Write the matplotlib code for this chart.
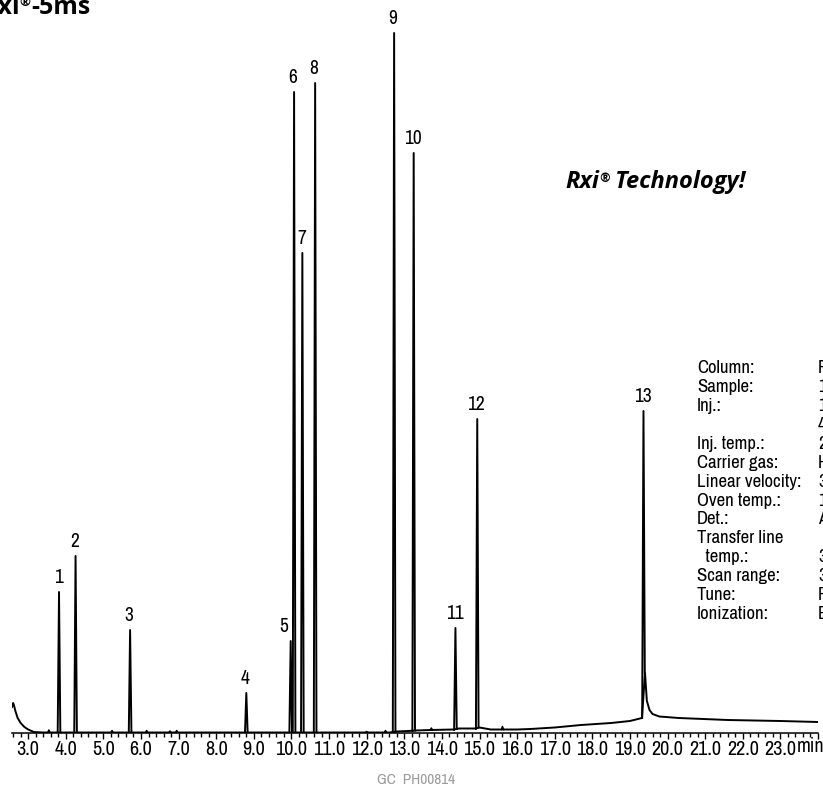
import numpy as np
import matplotlib.pyplot as plt
from matplotlib import font_manager
from matplotlib.font_manager import FontProperties

# peaks: retention time (min) and apex height (above the axis)
peak_no = ["1", "2", "3", "4", "5", "6", "7", "8", "9", "10", "11", "12", "13"]
peak_rt = [3.82, 4.26, 5.71, 8.80, 9.98, 10.07, 10.29, 10.63, 12.73, 13.25, 14.36, 14.94, 19.36]
peak_top = [141, 177, 103, 40, 92, 641, 480, 650, 700, 580, 105, 314, 322]
peak_foot_left = [0.5, 0.5, 0.5, 0.5, 0.5, 0.5, 0.5, 0.5, 0.8, 2.0, 3.0, 4.0, 15]
peak_foot_right = [0.5, 0.5, 0.5, 0.5, 0.5, 0.5, 0.5, 0.5, 1.5, 2.5, 4.0, 5.5, 60]

# tiny unlabelled bumps on the baseline
bump_rt = [3.55, 5.23, 6.15, 6.77, 6.95, 12.00, 12.50, 13.72, 15.61]
bump_top = [3.0, 2.5, 2.5, 2.0, 2.5, 1.5, 2.5, 5.0, 6.5]
bump_foot = [0.5, 0.5, 0.5, 0.5, 0.5, 0.5, 0.5, 3.0, 3.5]

# baseline (solvent tail at the start, drift and tail of peak 13 at the end)
base_t = [2.57, 2.60, 2.62, 2.66, 2.72, 2.80, 2.90, 3.00, 3.15, 3.40, 12.60, 12.80,
          13.10, 13.30, 13.70, 14.30, 14.45, 14.90, 15.00, 15.30, 16.00, 16.35, 17.00,
          17.70, 18.50, 19.00, 19.32, 19.40, 19.45, 19.52, 19.60, 19.78, 20.30, 21.60,
          23.00, 24.00]
base_y = [26, 30, 28, 22, 15, 10, 6, 3.5, 1, 0.5, 0.5, 1.5,
          2, 2.5, 3, 3.5, 4.5, 4.5, 5.5, 3.5, 3.5, 4, 5.5,
          8, 10, 12, 15, 60, 32, 23, 19, 16.5, 15, 13,
          12, 11]

tick_values = [3, 4, 5, 6, 7, 8, 9, 10, 11, 12, 13, 14, 15, 16, 17, 18, 19, 20, 21, 22, 23]
tick_text = ["3.0", "4.0", "5.0", "6.0", "7.0", "8.0", "9.0", "10.0", "11.0", "12.0", "13.0",
             "14.0", "15.0", "16.0", "17.0", "18.0", "19.0", "20.0", "21.0", "22.0", "23.0"]

cond_labels = ["Column:", "Sample:", "Inj.:", "", "Inj. temp.:", "Carrier gas:",
               "Linear velocity:", "Oven temp.:", "Det.:", "Transfer line", "  temp.:",
               "Scan range:", "Tune:", "Ionization:"]
cond_values = ["Rxi", "1", "1", "4", "2", "He", "3", "1", "A", "", "3", "3", "P", "E"]


def pick_narrow():
    # look for any installed condensed / narrow sans face, else fall back to Liberation Sans
    best = None
    for f in font_manager.fontManager.ttflist:
        if f.style != "normal" or f.weight not in (400, "normal", "regular", "book"):
            continue
        name = f.name.lower()
        narrowish = ("narrow" in name or "condensed" in name
                     or str(f.stretch) in ("condensed", "semi-condensed", "75", "87.5"))
        if not narrowish or "mono" in name or "serif" in name.replace("sans", ""):
            continue
        rank = 0 if "narrow" in name else 1 if "roboto" in name else 2
        if best is None or rank < best[0]:
            best = (rank, f.fname)
    if best:
        return best[1], 1.0
    return font_manager.findfont("Liberation Sans"), 0.88


narrow_file, scale = pick_narrow()


def cf(size):
    return FontProperties(fname=narrow_file, size=size * scale)


W, H = 823, 786
bold_font = ["Open Sans", "DejaVu Sans"]

fig = plt.figure(figsize=(W / 100, H / 100), dpi=100)
ax = fig.add_axes([12 / W, (H - 733) / H, 806 / W, 733 / H])
ax.set_xlim(2.57, 24.0)
ax.set_ylim(0, 733)

ax.plot(base_t, base_y, color="black", lw=1.4, solid_joinstyle="round")
w = 0.035
for rt, top, fl, fr in zip(peak_rt, peak_top, peak_foot_left, peak_foot_right):
    ax.plot([rt - w, rt, rt + w], [fl, top, fr], color="black", lw=1.4)
for rt, top, fl in zip(bump_rt, bump_top, bump_foot):
    ax.plot([rt - 0.03, rt, rt + 0.03], [fl, top, fl], color="black", lw=1.1)

shift = {"5": -5}
for n, rt, top in zip(peak_no, peak_rt, peak_top):
    ax.annotate(n, (rt, top), xytext=(shift.get(n, -0.7), 6.5), textcoords="offset points",
                ha="center", va="baseline", fontproperties=cf(14), annotation_clip=False)

for s in ["left", "right", "top"]:
    ax.spines[s].set_visible(False)
ax.spines["bottom"].set_linewidth(1.1)
ax.set_yticks([])
ax.set_xticks(tick_values + [24])
ax.set_xticklabels(tick_text + [""])
ax.set_xticks(np.arange(2.6, 24.01, 0.2), minor=True)
ax.tick_params(axis="x", which="major", length=4.5, width=1.0, pad=0.3)
ax.tick_params(axis="x", which="minor", length=2.6, width=1.0)
for lab in ax.get_xticklabels():
    lab.set_fontproperties(cf(14.5))

fig.text(797 / W, 1 - 752.5 / H, "min", ha="left", va="baseline", fontproperties=cf(14.5))
fig.text(416 / W, 1 - 780 / H, "GC  PH00814", ha="center", va="center",
         fontproperties=cf(11), color="#9a9a9a")

# conditions block (values run off the right edge)
for i, (lab, val) in enumerate(zip(cond_labels, cond_values)):
    y = 1 - (373 + i * 18.93) / H
    fig.text(697 / W, y, lab, ha="left", va="baseline", fontproperties=cf(13.5))
    fig.text(818 / W, y, val, ha="left", va="baseline", fontproperties=cf(13.5))

# "Rxi® Technology!"
t1 = fig.text(565 / W, 1 - 188 / H, "Rxi", ha="left", va="baseline", fontsize=17,
              family=bold_font, weight="bold", style="italic")
t2 = ax.annotate("®", xy=(1, 0.93), xycoords=t1, ha="left", va="top", fontsize=9,
                 family=bold_font, weight="bold", style="italic")
ax.annotate(" Technology!", xy=(1, 0), xycoords=(t2, t1), ha="left", va="bottom",
            fontsize=17, family=bold_font, weight="bold", style="italic")

# title cut off at the top-left corner
t5 = fig.text(90 / W, 1 - 13.5 / H, "-5ms", ha="right", va="baseline", fontsize=18,
              family=bold_font, weight="bold")
tr = ax.annotate("®", xy=(0, 0.93), xycoords=t5, ha="right", va="top", fontsize=9.5,
                 family=bold_font, weight="bold")
ax.annotate("Rxi", xy=(0, 0), xycoords=(tr, t5), ha="right", va="bottom", fontsize=18,
            family=bold_font, weight="bold")

fig.savefig("out.png", dpi=100)
